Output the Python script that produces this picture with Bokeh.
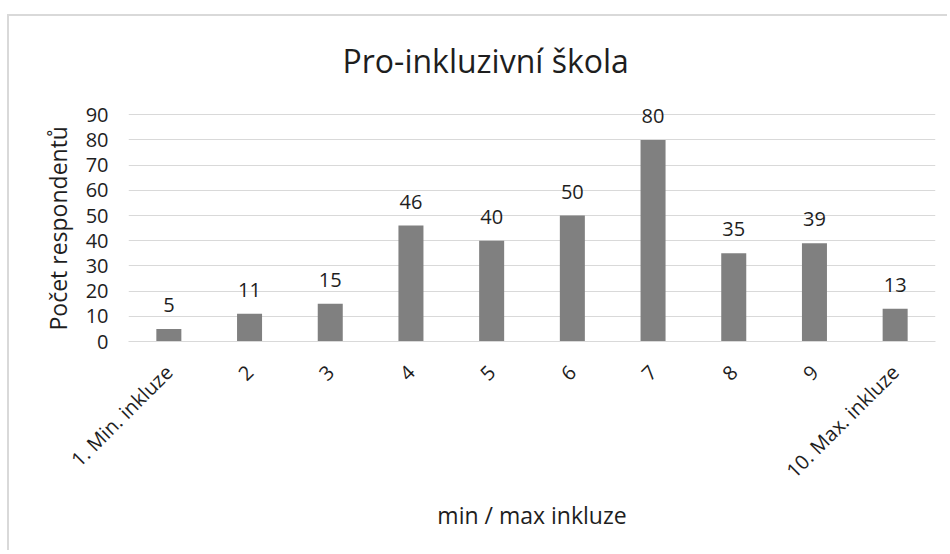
import math
from bokeh.plotting import figure
from bokeh.models import ColumnDataSource, LabelSet, FactorRange, Range1d, FixedTicker, Title
from bokeh.core.properties import value
from bokeh.embed import file_html
from bokeh.resources import INLINE

categories = ["1. Min. inkluze", "2", "3", "4", "5", "6", "7", "8", "9", "10. Max. inkluze"]
values = [5, 11, 15, 46, 40, 50, 80, 35, 39, 13]
y_ticks = [0, 10, 20, 30, 40, 50, 60, 70, 80, 90]

title_text = "Pro-inkluzivní škola"
x_title = "min / max inkluze"
y_title = "Počet respondentů"

FONT = "Open Sans"
TXT = "#1e1e1e"
GRID = "#d9d9d9"
BAR = "#808080"

src = ColumnDataSource(dict(cat=categories, val=values, lab=[str(v) for v in values]))

p = figure(
    x_range=FactorRange(*categories, range_padding=0),
    y_range=Range1d(0, 100),
    width=940, height=536,
    min_border_left=119, min_border_right=14, min_border_top=73, min_border_bottom=211,
    output_backend="svg", toolbar_location=None,
    title=title_text,
)
p.styles = {"margin-top": "14px", "margin-left": "7px",
            "border-top": "2px solid #d9d9d9", "border-left": "2px solid #d9d9d9"}

p.vbar(x="cat", top="val", width=0.31, source=src, color=BAR, line_color=None)

labels = LabelSet(x="cat", y="val", text="lab", source=src, text_align="center",
                  text_baseline="alphabetic", y_offset=17, text_font=value(FONT),
                  text_font_size=value("20px"), text_color=TXT)
p.add_layout(labels)

p.title.text_font = FONT
p.title.text_font_size = "32px"
p.title.text_font_style = "normal"
p.title.text_color = TXT
p.title.align = "left"
p.title.offset = 214
p.title.standoff = 15

p.outline_line_color = None
p.background_fill_color = "white"
p.border_fill_color = "white"

p.xgrid.grid_line_color = None
p.ygrid.grid_line_color = GRID
p.ygrid.grid_line_width = 1
p.ygrid.ticker = FixedTicker(ticks=y_ticks)
p.yaxis.ticker = FixedTicker(ticks=y_ticks)

p.yaxis.axis_line_color = None
p.yaxis.major_tick_line_color = None
p.yaxis.minor_tick_line_color = None
p.yaxis.major_tick_out = 0
p.yaxis.major_label_standoff = 20
p.yaxis.major_label_text_font = FONT
p.yaxis.major_label_text_font_size = "20px"
p.yaxis.major_label_text_color = TXT

ytitle = Title(text=y_title, align="left", offset=11, standoff=17,
               text_font=FONT, text_font_size="23px", text_font_style="normal",
               text_color=TXT)
p.add_layout(ytitle, "left")

p.xaxis.axis_line_color = GRID
p.xaxis.axis_line_width = 1
p.xaxis.major_tick_line_color = None
p.xaxis.minor_tick_line_color = None
p.xaxis.major_tick_out = 0
p.xaxis.major_label_orientation = math.pi / 4
p.xaxis.major_label_standoff = 27
p.xaxis.major_label_text_font = FONT
p.xaxis.major_label_text_font_size = "20px"
p.xaxis.major_label_text_color = TXT
p.xaxis.axis_label = x_title
p.xaxis.axis_label_text_font = FONT
p.xaxis.axis_label_text_font_size = "23px"
p.xaxis.axis_label_text_font_style = "normal"
p.xaxis.axis_label_text_color = TXT
p.xaxis.axis_label_standoff = 3

open("out.html", "w").write(file_html(p, INLINE))
